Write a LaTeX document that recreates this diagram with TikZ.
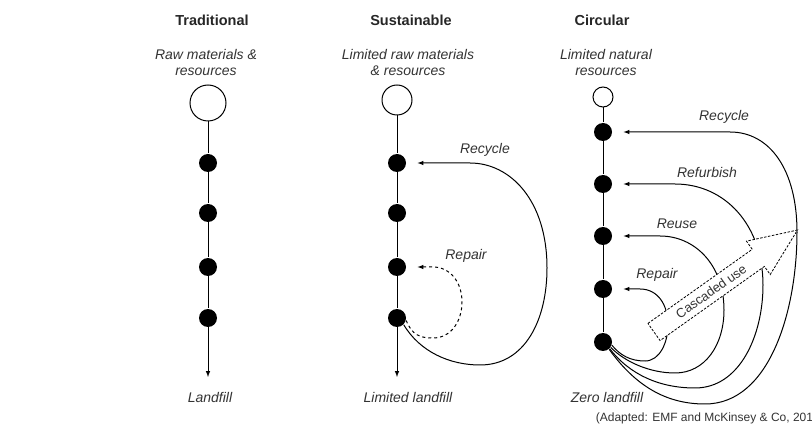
\documentclass[tikz,border=0pt]{standalone}
\usepackage{fontspec}
\setmainfont{Liberation Sans}
\usetikzlibrary{arrows,positioning,calc}

\tikzset{
  dot/.style={circle,fill=black,inner sep=0pt,minimum size=18pt},
  res/.style={circle,draw,fill=white,inner sep=0pt},
  ttl/.style={font=\bfseries\fontsize{14.5}{16}\selectfont,text=black!85},
  lab/.style={font=\itshape\fontsize{14}{16}\selectfont,text=black!80,align=center},
  flow/.style={-latex,shorten >=11pt},
  cascade/.style={draw,dash pattern=on 2.5pt off 1.5pt,fill=white,line width=0.8pt}
}

\begin{document}
\begin{tikzpicture}[x=1pt,y=-1pt,line width=1pt]
	\useasboundingbox (0,0) rectangle (812,430);
	% titles and sources
	\node[ttl] (ttrad) at (212,20) {Traditional};
	\node[ttl] (tsust) at (411,20) {Sustainable};
	\node[ttl] (tcirc) at (602,20) {Circular};
	\node[lab] (rtrad) at (206,62) {Raw materials \&\\resources};
	\node[lab] (rsust) at (408,62) {Limited raw materials\\\& resources};
	\node[lab] (rcirc) at (606,62) {Limited natural\\resources};
	% traditional
	\node[res,minimum size=36pt] (t0) at (208,103) {};
	\foreach \n/\y in {1/163,2/213,3/267,4/318}
		\node[dot] (t\n) at (208,\y) {};
	\coordinate (tend) at (208,377);
	\draw (t0) -- (t1) -- (t2) -- (t3) -- (t4);
	\draw[-latex] (t4) -- (tend);
	\node[lab] (ltrad) at (210,397) {Landfill};
	% sustainable
	\node[res,minimum size=30pt] (s0) at (397,100) {};
	\foreach \n/\y in {1/163,2/213,3/267,4/318}
		\node[dot] (s\n) at (397,\y) {};
	\coordinate (send) at (397,377);
	\draw (s0) -- (s1) -- (s2) -- (s3) -- (s4);
	\draw[-latex] (s4) -- (send);
	\draw[flow] (s4.-45) .. controls (420,352) and (450,365) .. (480,365)
		.. controls (525,365) and (547,320) .. (547,268)
		.. controls (547,200) and (510,163) .. (470,163) -- (s1.east);
	\draw[flow,dashed] (s4.-15) .. controls (412,335) and (420,338) .. (433,338)
		.. controls (452,338) and (462,320) .. (462,302)
		.. controls (462,282) and (450,267) .. (433,267) -- (s3.east);
	\node[lab] (lsrec) at (485,150) {Recycle};
	\node[lab] (lsrep) at (466,256) {Repair};
	\node[lab] (lsust) at (408,397) {Limited landfill};
	% circular
	\node[res,minimum size=20pt] (c0) at (603,97) {};
	\foreach \n/\y in {1/132,2/184,3/236,4/289,5/342}
		\node[dot] (c\n) at (603,\y) {};
	\draw (c0) -- (c1) -- (c2) -- (c3) -- (c4) -- (c5);
	\draw[flow] (c5.-50) .. controls (635,385) and (665,404) .. (705,404)
		.. controls (770,404) and (797,310) .. (797,232)
		.. controls (797,170) and (770,132) .. (730,132) -- (c1.east);
	\draw[flow] (c5.-45) .. controls (630,375) and (660,388) .. (695,388)
		.. controls (740,388) and (763,335) .. (763,285)
		.. controls (763,225) and (725,184) .. (675,184) -- (c2.east);
	\draw[flow] (c5.-35) .. controls (625,362) and (650,373) .. (675,373)
		.. controls (705,373) and (724,345) .. (724,310)
		.. controls (724,265) and (695,236) .. (660,236) -- (c3.east);
	\draw[flow] (c5.-20) .. controls (620,355) and (630,361) .. (645,361)
		.. controls (660,361) and (668,342) .. (668,325)
		.. controls (668,305) and (658,289) .. (640,289) -- (c4.east);
	\begin{scope}[shift={(654,332)},rotate=35.4]
		\draw[cascade] (0,-10.5) -- (128,-10.5) -- (128,-20.5) -- (176,0)
			-- (128,20.5) -- (128,10.5) -- (0,10.5) -- cycle;
		\node[rotate=35.4,font=\fontsize{13}{13}\selectfont,text=black!80,inner sep=0pt] (cuse) at (70,0) {Cascaded use};
	\end{scope}
	\node[lab] (lcrec) at (724,117) {Recycle};
	\node[lab] (lcref) at (707,172) {Refurbish};
	\node[lab] (lcreu) at (677,224) {Reuse};
	\node[lab] (lcrep) at (657,275) {Repair};
	\node[lab] (lcirc) at (607,397) {Zero landfill};
	\node[font=\fontsize{12}{12}\selectfont,text=black!80,anchor=west] (src) at (592,418) {(Adapted: EMF and McKinsey \& Co, 2012)};
\end{tikzpicture}
\end{document}
